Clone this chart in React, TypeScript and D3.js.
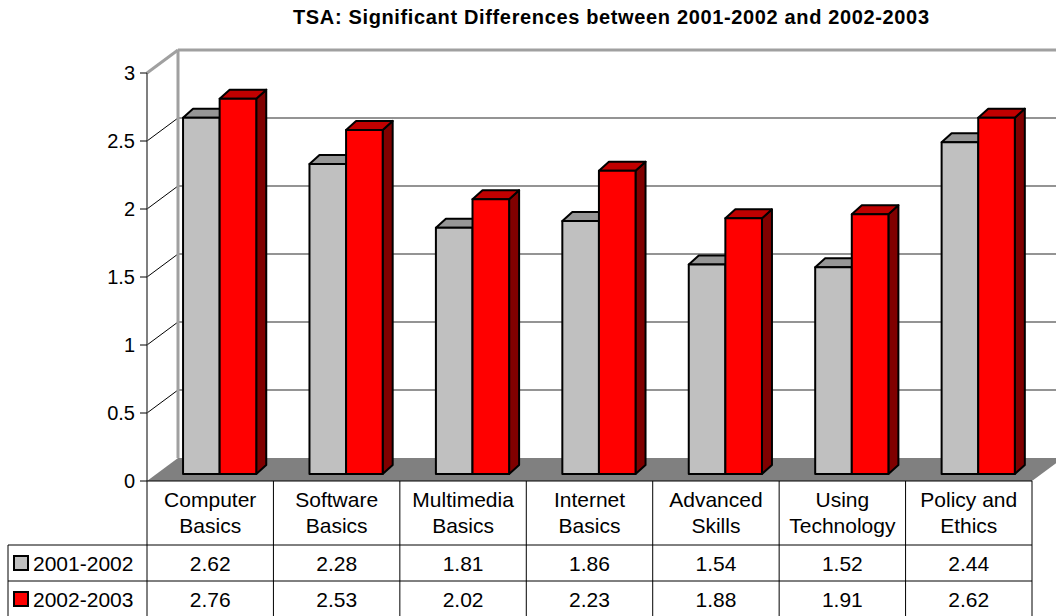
import React from "react";
import * as d3 from "d3";

const categories = [
  ["Computer", "Basics"],
  ["Software", "Basics"],
  ["Multimedia", "Basics"],
  ["Internet", "Basics"],
  ["Advanced", "Skills"],
  ["Using", "Technology"],
  ["Policy and", "Ethics"],
];
const seriesNames = ["2001-2002", "2002-2003"];
const values2001 = [2.62, 2.28, 1.81, 1.86, 1.54, 1.52, 2.44];
const values2002 = [2.76, 2.53, 2.02, 2.23, 1.88, 1.91, 2.62];
const yTicks = [0, 0.5, 1, 1.5, 2, 2.5, 3];

const seriesValues = [values2001, values2002];
const fronts = ["#C0C0C0", "#FF0000"];
const tops = ["#969696", "#C00000"];
const sides = ["#606060", "#800000"];

const W = 1056;
const H = 616;
const left = 147;
const right = 1032;
const floorY = 481;
const depthX = 31;
const depthY = 23;
const font = "'Liberation Sans', Arial, sans-serif";

const App: React.FC = () => {
  const catKeys = categories.map((c) => c.join(" "));
  const x = d3.scaleBand<string>().domain(catKeys).range([left, right]);
  const bw = x.bandwidth();

  // front axis, back wall and the bar front plane
  const yAxis = d3.scaleLinear().domain([0, 3]).range([floorY, floorY - 408]);
  const yBack = d3.scaleLinear().domain([0, 3]).range([floorY - depthY, floorY - depthY - 408]);
  const barShiftY = 7;
  const barShiftX = (barShiftY * depthX) / depthY;
  const yBar = d3.scaleLinear().domain([0, 3]).range([floorY - barShiftY, floorY - barShiftY - 408]);
  const bdx = 10;
  const bdy = 9;
  const barW = 36.6;

  const backLeft = left + depthX;
  const backRight = right + depthX;

  const bars: React.ReactNode[] = [];
  catKeys.forEach((key, i) => {
    const c = (x(key) as number) + bw / 2 + barShiftX;
    const sub = d3.scaleBand<string>().domain(seriesNames).range([c - barW, c + barW]);
    seriesNames.forEach((s, j) => {
      const x0 = sub(s) as number;
      const x1 = x0 + sub.bandwidth();
      const yt = yBar(seriesValues[j][i]);
      const yb = yBar(0);
      bars.push(
        <g key={`${i}-${j}`} stroke="#000" strokeWidth={2} strokeLinejoin="round">
          <path
            d={`M${x1},${yt}L${x1 + bdx},${yt - bdy}L${x1 + bdx},${yb - bdy}L${x1},${yb}Z`}
            fill={sides[j]}
          />
          <path
            d={`M${x0},${yt}L${x1},${yt}L${x1 + bdx},${yt - bdy}L${x0 + bdx},${yt - bdy}Z`}
            fill={tops[j]}
          />
          <rect x={x0} y={yt} width={x1 - x0} height={yb - yt} fill={fronts[j]} />
        </g>
      );
    });
  });

  const rowTop = [481, 545, 581, 617];

  return (
    <svg
      width={W}
      height={H}
      style={{ position: "absolute", left: 0, top: 0, background: "#fff" }}
      fontFamily={font}
    >
      <text
        x={611}
        y={24}
        textAnchor="middle"
        fontWeight="bold"
        fontSize={20}
        textLength={636}
        lengthAdjust="spacing"
      >
        TSA: Significant Differences between 2001-2002 and 2002-2003
      </text>

      {/* floor */}
      <polygon
        points={`${left},${floorY} ${right},${floorY} ${backRight},${floorY - depthY} ${backLeft},${floorY - depthY}`}
        fill="#808080"
      />

      {/* gridlines */}
      {yTicks.slice(1, -1).map((t) => (
        <g key={t}>
          <line x1={left} y1={yAxis(t)} x2={backLeft} y2={yBack(t)} stroke="#000" strokeWidth={1} />
          <line x1={backLeft} y1={yBack(t)} x2={backRight} y2={yBack(t)} stroke="#707070" strokeWidth={1.5} />
        </g>
      ))}

      {/* walls frame */}
      <g stroke="#A0A0A0" strokeWidth={3} fill="none">
        <line x1={left} y1={yAxis(3)} x2={backLeft} y2={yBack(3)} />
        <line x1={backLeft} y1={yBack(3)} x2={backRight} y2={yBack(3)} />
        <line x1={backLeft} y1={yBack(3)} x2={backLeft} y2={yBack(0)} />
      </g>

      {/* front axis */}
      <line x1={left} y1={yAxis(3)} x2={left} y2={floorY} stroke="#555" strokeWidth={1.5} />
      {yTicks.map((t) => (
        <g key={t}>
          <line x1={left - 7} y1={yAxis(t)} x2={left} y2={yAxis(t)} stroke="#000" />
          <text x={135} y={yAxis(t) + 7} textAnchor="end" fontSize={20}>
            {String(t)}
          </text>
        </g>
      ))}

      {bars}

      {/* data table */}
      <g stroke="#000" strokeWidth={1}>
        <line x1={left} y1={rowTop[0]} x2={right} y2={rowTop[0]} />
        <line x1={8} y1={rowTop[1]} x2={right} y2={rowTop[1]} />
        <line x1={8} y1={rowTop[2]} x2={right} y2={rowTop[2]} />
        <line x1={8} y1={rowTop[3] - 0.5} x2={right} y2={rowTop[3] - 0.5} />
        <line x1={8} y1={rowTop[1]} x2={8} y2={H} />
        {catKeys.map((k) => (
          <line key={k} x1={x(k) as number} y1={rowTop[0]} x2={x(k) as number} y2={H} />
        ))}
        <line x1={right} y1={rowTop[0]} x2={right} y2={H} />
      </g>
      {categories.map((c, i) => {
        const cx = (x(catKeys[i]) as number) + bw / 2;
        return (
          <g key={catKeys[i]} fontSize={21} textAnchor="middle">
            <text x={cx} y={507}>{c[0]}</text>
            <text x={cx} y={533}>{c[1]}</text>
            <text x={cx} y={571}>{values2001[i].toFixed(2)}</text>
            <text x={cx} y={607}>{values2002[i].toFixed(2)}</text>
          </g>
        );
      })}
      {seriesNames.map((s, j) => (
        <g key={s}>
          <rect x={14} y={rowTop[j + 1] + 11} width={14} height={14} fill={fronts[j]} stroke="#000" strokeWidth={2} />
          <text x={33} y={rowTop[j + 1] + 26} fontSize={21}>
            {s}
          </text>
        </g>
      ))}
    </svg>
  );
};

export default App;
